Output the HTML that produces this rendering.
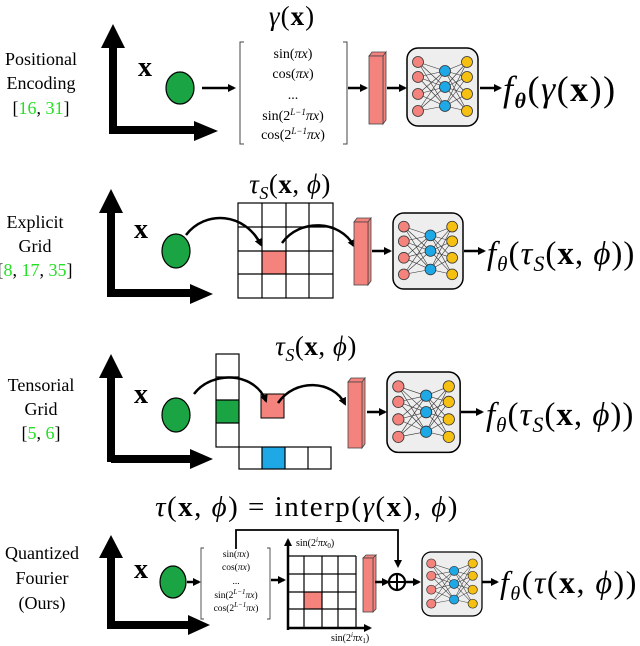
<!DOCTYPE html>
<html><head><meta charset="utf-8"><style>
html,body{margin:0;padding:0;background:#fff;}
svg{display:block;}
text{font-family:"Liberation Serif",serif;fill:#000;}
.it{font-style:italic;}
.lbl{font-size:18px;}
</style></head><body>
<svg width="640" height="646" viewBox="0 0 640 646" xmlns="http://www.w3.org/2000/svg">
<defs>
<marker id="ah" markerWidth="8" markerHeight="8" refX="6" refY="4" orient="auto" markerUnits="userSpaceOnUse"><path d="M0,0 L8,4 L0,8 Z" fill="#000"/></marker>
<g id="nn">
  <rect x="0" y="0" width="71" height="78" rx="11" fill="#eeeeee" stroke="#000" stroke-width="1.5"/>
  <g stroke="#333" stroke-width="0.6">
    <path d="M11,14L38,23M11,14L38,39M11,14L38,58M11,29L38,23M11,29L38,39M11,29L38,58M11,46L38,23M11,46L38,39M11,46L38,58M11,63L38,23M11,63L38,39M11,63L38,58"/>
    <path d="M60,14L38,23M60,14L38,39M60,14L38,58M60,29L38,23M60,29L38,39M60,29L38,58M60,46L38,23M60,46L38,39M60,46L38,58M60,63L38,23M60,63L38,39M60,63L38,58"/>
  </g>
  <g stroke="#333" stroke-width="0.8">
    <circle cx="11" cy="14" r="5.5" fill="#f4837d"/><circle cx="11" cy="29" r="5.5" fill="#f4837d"/><circle cx="11" cy="46" r="5.5" fill="#f4837d"/><circle cx="11" cy="63" r="5.5" fill="#f4837d"/>
    <circle cx="38" cy="23" r="5.5" fill="#1ea8e6"/><circle cx="38" cy="39" r="5.5" fill="#1ea8e6"/><circle cx="38" cy="58" r="5.5" fill="#1ea8e6"/>
    <circle cx="60" cy="14" r="5.5" fill="#f5c012"/><circle cx="60" cy="29" r="5.5" fill="#f5c012"/><circle cx="60" cy="46" r="5.5" fill="#f5c012"/><circle cx="60" cy="63" r="5.5" fill="#f5c012"/>
  </g>
</g>
</defs>

<!-- ===== Panel 1 ===== -->
<text x="41" y="65" class="lbl" text-anchor="middle">Positional</text>
<text x="41" y="89" class="lbl" text-anchor="middle">Encoding</text>
<text x="41" y="114" class="lbl" text-anchor="middle">[<tspan fill="#22e022">16</tspan>, <tspan fill="#22e022">31</tspan>]</text>
<path d="M113,134 V45 M113,130 H196" stroke="#000" stroke-width="8" fill="none"/>
<path d="M101,48 L113,24 L125,48 Z M194,121 L218,131 L194,141 Z" fill="#000"/>
<text x="138" y="76" font-size="28" font-weight="bold">x</text>
<ellipse cx="180" cy="88" rx="14" ry="16" fill="#1aa443" stroke="#000" stroke-width="1.2"/>
<line x1="202" y1="88" x2="234" y2="88" stroke="#000" stroke-width="2.5" marker-end="url(#ah)"/>
<text x="292" y="25" font-size="27" text-anchor="middle" letter-spacing="1"><tspan class="it">γ</tspan>(<tspan font-weight="bold">x</tspan>)</text>
<path d="M244,42 H240 V144 H244 M343,42 H347 V144 H343" stroke="#444" stroke-width="1" fill="none"/>
<g font-size="14" text-anchor="middle">
<text x="293" y="58">sin(<tspan class="it">πx</tspan>)</text>
<text x="293" y="78">cos(<tspan class="it">πx</tspan>)</text>
<text x="293" y="99">...</text>
<text x="293" y="120">sin(2<tspan font-size="9" dy="-5" class="it">L−1</tspan><tspan dy="5" class="it">πx</tspan>)</text>
<text x="293" y="139">cos(2<tspan font-size="9" dy="-5" class="it">L−1</tspan><tspan dy="5" class="it">πx</tspan>)</text>
</g>
<line x1="348" y1="88" x2="366" y2="88" stroke="#000" stroke-width="2.5" marker-end="url(#ah)"/>
<path d="M369,56 L372,52 L386,52 L383,56 Z M383,56 L386,52 L386,120 L383,124 Z" fill="#f4837d" stroke="#444" stroke-width="0.8"/>
<rect x="369" y="56" width="14" height="68" fill="#f4837d" stroke="#444" stroke-width="0.8"/>
<line x1="387" y1="88" x2="405" y2="88" stroke="#000" stroke-width="2.5" marker-end="url(#ah)"/>
<use href="#nn" transform="translate(407,48)"/>
<line x1="480" y1="88" x2="500" y2="88" stroke="#000" stroke-width="2.5" marker-end="url(#ah)"/>
<text x="503" y="101" font-size="36" letter-spacing="1.5"><tspan class="it">f</tspan><tspan font-size="22" dy="7" class="it" font-weight="bold">θ</tspan><tspan dy="-7">(</tspan><tspan class="it">γ</tspan>(<tspan font-weight="bold">x</tspan>))</text>

<!-- ===== Panel 2 ===== -->
<text x="35" y="228" class="lbl" text-anchor="middle">Explicit</text>
<text x="35" y="252" class="lbl" text-anchor="middle">Grid</text>
<text x="35" y="276" class="lbl" text-anchor="middle">[<tspan fill="#22e022">8</tspan>, <tspan fill="#22e022">17</tspan>, <tspan fill="#22e022">35</tspan>]</text>
<path d="M111,297 V210 M111,293 H192" stroke="#000" stroke-width="8" fill="none"/>
<path d="M99,213 L111,189 L123,213 Z M190,284 L213,294 L190,304 Z" fill="#000"/>
<text x="134" y="238" font-size="28" font-weight="bold">x</text>
<ellipse cx="176" cy="251" rx="14" ry="17" fill="#1aa443" stroke="#000" stroke-width="1.2"/>
<text x="290" y="193" font-size="27" text-anchor="middle" letter-spacing="0.5"><tspan class="it">τ</tspan><tspan class="it" font-size="18" dy="6">S</tspan><tspan dy="-6">(</tspan><tspan font-weight="bold">x</tspan>, <tspan class="it">ϕ</tspan>)</text>
<rect x="262" y="251" width="24" height="23" fill="#f4837d"/>
<g stroke="#000" stroke-width="1.2" fill="none">
<rect x="238" y="203" width="95" height="95"/>
<path d="M262,203V298M286,203V298M309,203V298M238,227H333M238,251H333M238,274H333"/>
</g>
<path d="M186,235 C205,210 245,212 261,245" stroke="#000" stroke-width="2.5" fill="none" marker-end="url(#ah)"/>
<path d="M282,243 C300,218 340,220 354,246" stroke="#000" stroke-width="2.5" fill="none" marker-end="url(#ah)"/>
<path d="M354,222 L357,218 L371,218 L368,222 Z M368,222 L371,218 L371,281 L368,285 Z" fill="#f4837d" stroke="#444" stroke-width="0.8"/>
<rect x="354" y="222" width="14" height="63" fill="#f4837d" stroke="#444" stroke-width="0.8"/>
<line x1="372" y1="251" x2="390" y2="251" stroke="#000" stroke-width="2.5" marker-end="url(#ah)"/>
<use href="#nn" transform="translate(393,213) scale(0.986,0.974)"/>
<line x1="464" y1="251" x2="484" y2="251" stroke="#000" stroke-width="2.5" marker-end="url(#ah)"/>
<text x="487" y="264" font-size="33" letter-spacing="1"><tspan class="it">f</tspan><tspan font-size="21" dy="7" class="it">θ</tspan><tspan dy="-7">(</tspan><tspan class="it">τ</tspan><tspan class="it" font-size="22" dy="7">S</tspan><tspan dy="-7">(</tspan><tspan font-weight="bold">x</tspan>, <tspan class="it">ϕ</tspan>))</text>

<!-- ===== Panel 3 ===== -->
<text x="41" y="391" class="lbl" text-anchor="middle">Tensorial</text>
<text x="41" y="415" class="lbl" text-anchor="middle">Grid</text>
<text x="41" y="439" class="lbl" text-anchor="middle">[<tspan fill="#22e022">5</tspan>, <tspan fill="#22e022">6</tspan>]</text>
<path d="M111,462 V375 M111,459 H192" stroke="#000" stroke-width="8" fill="none"/>
<path d="M99,378 L111,354 L123,378 Z M190,449 L213,459 L190,469 Z" fill="#000"/>
<text x="134" y="403" font-size="28" font-weight="bold">x</text>
<ellipse cx="176" cy="415" rx="14" ry="17" fill="#1aa443" stroke="#000" stroke-width="1.2"/>
<text x="316" y="355" font-size="27" text-anchor="middle" letter-spacing="0.5"><tspan class="it">τ</tspan><tspan class="it" font-size="18" dy="6">S</tspan><tspan dy="-6">(</tspan><tspan font-weight="bold">x</tspan>, <tspan class="it">ϕ</tspan>)</text>
<rect x="216" y="400" width="23" height="23" fill="#1aa443"/>
<rect x="262" y="447" width="23" height="22" fill="#1ea8e6"/>
<g stroke="#000" stroke-width="1.2" fill="none">
<rect x="216" y="354" width="23" height="93"/>
<path d="M216,377H239M216,400H239M216,423H239"/>
<rect x="239" y="447" width="92" height="22"/>
<path d="M262,447V469M285,447V469M308,447V469"/>
</g>
<rect x="261" y="394" width="23" height="24" fill="#f4837d" stroke="#000" stroke-width="1"/>
<path d="M194,394 C212,370 255,372 266,401" stroke="#000" stroke-width="2.5" fill="none" marker-end="url(#ah)"/>
<path d="M278,403 C295,378 333,380 345,404" stroke="#000" stroke-width="2.5" fill="none" marker-end="url(#ah)"/>
<path d="M348,382 L351,378 L365,378 L362,382 Z M362,382 L365,378 L365,444 L362,448 Z" fill="#f4837d" stroke="#444" stroke-width="0.8"/>
<rect x="348" y="382" width="14" height="66" fill="#f4837d" stroke="#444" stroke-width="0.8"/>
<line x1="367" y1="412" x2="385" y2="412" stroke="#000" stroke-width="2.5" marker-end="url(#ah)"/>
<use href="#nn" transform="translate(387,372) scale(1.03,1.03)"/>
<line x1="461" y1="412" x2="482" y2="412" stroke="#000" stroke-width="2.5" marker-end="url(#ah)"/>
<text x="486" y="425" font-size="33" letter-spacing="1"><tspan class="it">f</tspan><tspan font-size="21" dy="7" class="it">θ</tspan><tspan dy="-7">(</tspan><tspan class="it">τ</tspan><tspan class="it" font-size="22" dy="7">S</tspan><tspan dy="-7">(</tspan><tspan font-weight="bold">x</tspan>, <tspan class="it">ϕ</tspan>))</text>

<!-- ===== Panel 4 ===== -->
<text x="42" y="559" class="lbl" text-anchor="middle">Quantized</text>
<text x="42" y="584" class="lbl" text-anchor="middle">Fourier</text>
<text x="42" y="609" class="lbl" text-anchor="middle">(Ours)</text>
<path d="M111,629 V556 M111,625 H190" stroke="#000" stroke-width="8" fill="none"/>
<path d="M99,558 L111,535 L123,558 Z M188,615 L210,625 L188,635 Z" fill="#000"/>
<text x="134" y="578" font-size="28" font-weight="bold">x</text>
<ellipse cx="173" cy="582" rx="13" ry="16" fill="#1aa443" stroke="#000" stroke-width="1.2"/>
<line x1="187" y1="582" x2="199" y2="582" stroke="#000" stroke-width="2.5" marker-end="url(#ah)"/>
<text x="307" y="516" font-size="29" text-anchor="middle" letter-spacing="1.5"><tspan class="it">τ</tspan>(<tspan font-weight="bold">x</tspan>, <tspan class="it">ϕ</tspan>) = interp(<tspan class="it">γ</tspan>(<tspan font-weight="bold">x</tspan>), <tspan class="it">ϕ</tspan>)</text>
<path d="M204,548 H201 V619 H204 M267,548 H270 V619 H267" stroke="#444" stroke-width="0.9" fill="none"/>
<g font-size="9.5" text-anchor="middle" fill="#333">
<text x="236" y="557">sin(<tspan class="it">πx</tspan>)</text>
<text x="236" y="570">cos(<tspan class="it">πx</tspan>)</text>
<text x="236" y="584">...</text>
<text x="236" y="598">sin(2<tspan font-size="7" dy="-4" class="it">L−1</tspan><tspan dy="4" class="it">πx</tspan>)</text>
<text x="236" y="611">cos(2<tspan font-size="7" dy="-4" class="it">L−1</tspan><tspan dy="4" class="it">πx</tspan>)</text>
</g>
<path d="M236,549 V530 H398 V566" stroke="#000" stroke-width="1.8" fill="none" marker-end="url(#ah)"/>
<line x1="271" y1="580" x2="284" y2="580" stroke="#000" stroke-width="2.5" marker-end="url(#ah)"/>
<rect x="304" y="592" width="18" height="17" fill="#f4837d"/>
<g stroke="#000" stroke-width="1.2" fill="none">
<path d="M304,556V627M322,556V627M338,556V627M356,556V627M287,556H356M287,574H356M287,592H356M287,609H356"/>
</g>
<line x1="288" y1="630" x2="288" y2="540" stroke="#000" stroke-width="2.5" marker-end="url(#ah)"/>
<line x1="287" y1="628" x2="370" y2="628" stroke="#000" stroke-width="2.5" marker-end="url(#ah)"/>
<text x="296" y="546" font-size="10" fill="#333">sin(2<tspan font-size="7" dy="-4" class="it">i</tspan><tspan dy="4" class="it">πx</tspan><tspan font-size="7" dy="2">0</tspan><tspan dy="-2">)</tspan></text>
<text x="331" y="641" font-size="10" fill="#333">sin(2<tspan font-size="7" dy="-4" class="it">i</tspan><tspan dy="4" class="it">πx</tspan><tspan font-size="7" dy="2">1</tspan><tspan dy="-2">)</tspan></text>
<path d="M363,558 L366,555 L376,555 L373,558 Z M373,558 L376,555 L376,609 L373,612 Z" fill="#f4837d" stroke="#444" stroke-width="0.8"/>
<rect x="363" y="558" width="10" height="54" fill="#f4837d" stroke="#444" stroke-width="0.8"/>
<line x1="375" y1="582" x2="388" y2="582" stroke="#000" stroke-width="2.5" marker-end="url(#ah)"/>
<circle cx="397" cy="582" r="8" fill="none" stroke="#000" stroke-width="2.2"/>
<path d="M389,582H405M397,574V590" stroke="#000" stroke-width="2"/>
<line x1="405" y1="582" x2="419" y2="582" stroke="#000" stroke-width="2.5" marker-end="url(#ah)"/>
<use href="#nn" transform="translate(422,552) scale(0.845,0.82)"/>
<line x1="482" y1="582" x2="497" y2="582" stroke="#000" stroke-width="2.5" marker-end="url(#ah)"/>
<text x="500" y="593" font-size="32" letter-spacing="1.5"><tspan class="it">f</tspan><tspan font-size="20" dy="7" class="it">θ</tspan><tspan dy="-7">(</tspan><tspan class="it">τ</tspan>(<tspan font-weight="bold">x</tspan>, <tspan class="it">ϕ</tspan>))</text>
</svg>
</body></html>
